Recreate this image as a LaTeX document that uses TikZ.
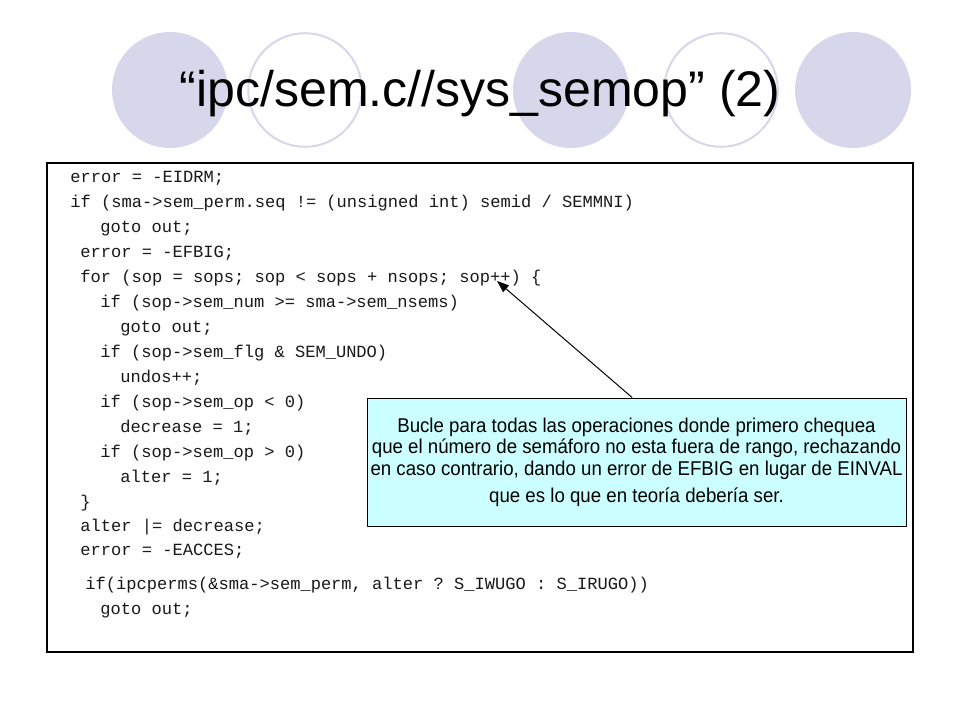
\documentclass[tikz,border=0pt]{standalone}
\usepackage{fontspec}
\setmainfont{Liberation Sans}
\setmonofont{Liberation Mono}
\newfontfamily\notefont{Liberation Sans}[FakeStretch=0.935]
\usepackage{xcolor}
\usepackage{tikz}
\usetikzlibrary{arrows.meta,positioning}
\definecolor{lavender}{RGB}{215,215,235}
\definecolor{notecyan}{RGB}{204,255,255}
\tikzset{code/.style={anchor=base west,inner sep=0pt,text=black!90,
    font=\ttfamily\fontsize{12.15}{14}\selectfont},
  callout/.style={draw,fill=notecyan,line width=0.7pt,inner sep=0pt,
    minimum width=13.475cm,minimum height=3.2cm,align=center,
    font=\notefont\fontsize{14.2}{15.3}\selectfont}}
\begin{document}
\begin{tikzpicture}[scale=1.0,line cap=round,line join=round,>={Triangle[length=0.3cm,width=0.22cm]},x=1.0cm,y=1.0cm]
\useasboundingbox (0,0) rectangle (24,18);
%title circles
\fill[lavender] (4.25,15.75) circle (1.45);
\draw[lavender,line width=0.05cm] (7.625,15.75) circle (1.42);
\fill[lavender] (14.275,15.75) circle (1.45);
\draw[lavender,line width=0.05cm] (18.025,15.75) circle (1.42);
\fill[lavender] (21.325,15.75) circle (1.45);
\node[anchor=base,inner sep=0pt,font=\fontsize{35.6}{40}\selectfont] (title) at (12,15.325) {“ipc/sem.c//sys\_semop” (2)};
%code frame
\draw[line width=2.1pt,line join=miter,line cap=rect] (1.175,1.7) rectangle (22.825,13.925);
\node[code] (c1) at (1.75,13.45) {error = -EIDRM;};
\node[code] (c2) at (1.75,12.825) {if (sma->sem\_perm.seq != (unsigned int) semid / SEMMNI)};
\node[code] (c3) at (2.5,12.2) {goto out;};
\node[code] (c4) at (2.0,11.575) {error = -EFBIG;};
\node[code] (c5) at (2.0,10.95) {for (sop = sops; sop < sops + nsops; sop++) \{};
\node[code] (c6) at (2.5,10.325) {if (sop->sem\_num >= sma->sem\_nsems)};
\node[code] (c7) at (3.0,9.7) {goto out;};
\node[code] (c8) at (2.5,9.075) {if (sop->sem\_flg \& SEM\_UNDO)};
\node[code] (c9) at (3.0,8.45) {undos++;};
\node[code] (c10) at (2.5,7.825) {if (sop->sem\_op < 0)};
\node[code] (c11) at (3.0,7.2) {decrease = 1;};
\node[code] (c12) at (2.5,6.575) {if (sop->sem\_op > 0)};
\node[code] (c13) at (3.0,5.95) {alter = 1;};
\node[code] (c14) at (2.0,5.325) {\}};
\node[code] (c15) at (2.0,4.725) {alter |= decrease;};
\node[code] (c16) at (2.0,4.125) {error = -EACCES;};
\node[code] (c17) at (2.125,3.275) {if(ipcperms(\&sma->sem\_perm, alter ? S\_IWUGO : S\_IRUGO))};
\node[code] (c18) at (2.5,2.65) {goto out;};
%note
\node[callout] (note) at (15.9125,6.45) {Bucle para todas las operaciones donde primero chequea\\
que el número de semáforo no esta fuera de rango, rechazando\\
en caso contrario, dando un error de EFBIG en lugar de EINVAL\\[3.9pt]
que es lo que en teoría debería ser.};
\coordinate (tip) at (12.425,10.975);
\draw[->,line width=0.7pt] ([xshift=-0.11cm]note.north) -- (tip);
\end{tikzpicture}
\end{document}
